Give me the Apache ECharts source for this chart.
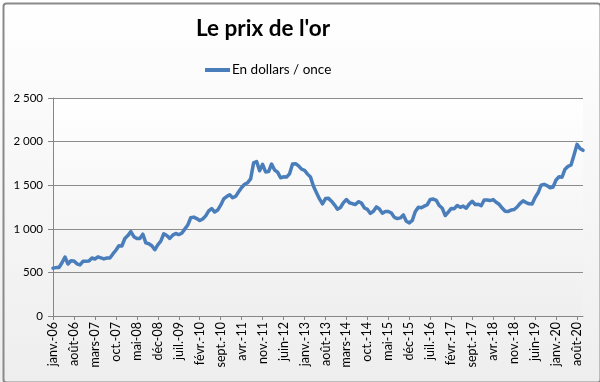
<!DOCTYPE html>
<html>
<head>
<meta charset="utf-8">
<script src="https://cdn.jsdelivr.net/npm/echarts@6/dist/echarts.min.js"></script>
<style>
html,body{margin:0;padding:0;background:#fff;}
#c{width:600px;height:382px;}
</style>
</head>
<body>
<div id="c"></div>
<script>
// Month abbreviations (French, as shown) and years
var monthNames = ['janv.','févr.','mars','avr.','mai','juin','juil.','août','sept.','oct.','nov.','déc'];
var years = ['06','07','08','09','10','11','12','13','14','15','16','17','18','19','20'];

// Monthly gold price, USD / ounce
var p2006 = [549, 555, 557, 610, 676, 596, 633, 632, 598, 585, 627, 629];
var p2007 = [631, 665, 654, 679, 667, 655, 665, 665, 712, 754, 806, 803];
var p2008 = [889, 922, 968, 909, 888, 889, 939, 839, 829, 806, 760, 816];
var p2009 = [858, 943, 924, 890, 928, 946, 934, 949, 996, 1043, 1127, 1134];
var p2010 = [1117, 1095, 1113, 1148, 1205, 1232, 1193, 1215, 1271, 1343, 1370, 1391];
var p2011 = [1356, 1372, 1424, 1474, 1510, 1529, 1572, 1756, 1772, 1665, 1739, 1652];
var p2012 = [1656, 1743, 1674, 1650, 1585, 1596, 1594, 1630, 1744, 1747, 1721, 1684];
var p2013 = [1671, 1627, 1593, 1487, 1414, 1343, 1286, 1347, 1349, 1316, 1275, 1225];
var p2014 = [1244, 1300, 1336, 1299, 1288, 1279, 1311, 1296, 1239, 1222, 1176, 1201];
var p2015 = [1251, 1227, 1179, 1198, 1199, 1181, 1131, 1117, 1125, 1159, 1086, 1068];
var p2016 = [1097, 1199, 1246, 1242, 1260, 1276, 1337, 1341, 1326, 1267, 1236, 1152];
var p2017 = [1192, 1234, 1231, 1267, 1246, 1260, 1236, 1283, 1315, 1279, 1282, 1265];
var p2018 = [1331, 1331, 1324, 1335, 1304, 1281, 1238, 1202, 1199, 1215, 1221, 1250];
var p2019 = [1292, 1320, 1301, 1286, 1284, 1359, 1413, 1500, 1510, 1495, 1471, 1480];
var p2020 = [1560, 1597, 1592, 1683, 1716, 1732, 1847, 1968, 1922, 1900];

var yearly = [p2006,p2007,p2008,p2009,p2010,p2011,p2012,p2013,p2014,p2015,p2016,p2017,p2018,p2019,p2020];
var categories = [];
var values = [];
yearly.forEach(function(arr, yi){
  arr.forEach(function(v, mi){
    categories.push(monthNames[mi] + '-' + years[yi]);
    values.push(v);
  });
});

var FONT = 'Lato';
var chart = echarts.init(document.getElementById('c'), null, {renderer:'canvas'});
chart.setOption({
  animation: false,
  backgroundColor: {
    type:'linear', x:0, y:0, x2:0, y2:1,
    colorStops:[{offset:0,color:'#ffffff'},{offset:1,color:'#eeeeee'}]
  },
  graphic: [{
    type:'rect', left:1, top:1, z:100, silent:true,
    shape:{width:597, height:379, r:3},
    style:{fill:'none', stroke:'#8a8a8a', lineWidth:2}
  }],
  title: {
    text: "Le prix de l'or",
    left: 191, top: 12,
    textStyle: {fontFamily: FONT, fontWeight:'bold', fontSize: 22.5, color:'#000'}
  },
  legend: {
    left: 200, top: 58,
    icon: 'rect', itemWidth: 25, itemHeight: 4, itemGap: 10,
    textStyle: {fontFamily: FONT, fontSize: 13.5, color:'#000', padding:[0,0,0,-3]},
    data: ['En dollars / once']
  },
  grid: {
    left: 53, right: 17, top: 98, bottom: 66,
    show: true, borderWidth: 0,
    backgroundColor: {
      type:'linear', x:0, y:0, x2:0, y2:1,
      colorStops:[{offset:0,color:'#ffffff'},{offset:1,color:'#efefef'}]
    }
  },
  xAxis: {
    type: 'category',
    boundaryGap: false,
    data: categories,
    axisLine: {lineStyle:{color:'#868686', width:1}},
    axisTick: {show:true, length:4, interval:6, alignWithLabel:true, lineStyle:{color:'#868686'}},
    axisLabel: {interval:6, rotate:90, margin:6, fontFamily: FONT, fontSize: 12.5, color:'#000'},
    splitLine: {show:false}
  },
  yAxis: {
    type: 'value',
    min: 0, max: 2500, interval: 500,
    axisLine: {show:true, lineStyle:{color:'#868686', width:1}},
    axisTick: {show:true, length:5, lineStyle:{color:'#868686'}},
    axisLabel: {
      margin: 10, fontFamily: FONT, fontSize: 11.5, color:'#000',
      formatter: function(v){ return String(v).replace(/\B(?=(\d{3})+(?!\d))/g, ' '); }
    },
    splitLine: {lineStyle:{color:'#8c8c8c', width:1}}
  },
  series: [{
    name: 'En dollars / once',
    type: 'line',
    data: values,
    symbol: 'none',
    smooth: false,
    lineStyle: {color:'#4a7ebb', width:3.5, join:'round', cap:'round'},
    itemStyle: {color:'#4a7ebb'}
  }]
});
</script>
</body>
</html>
